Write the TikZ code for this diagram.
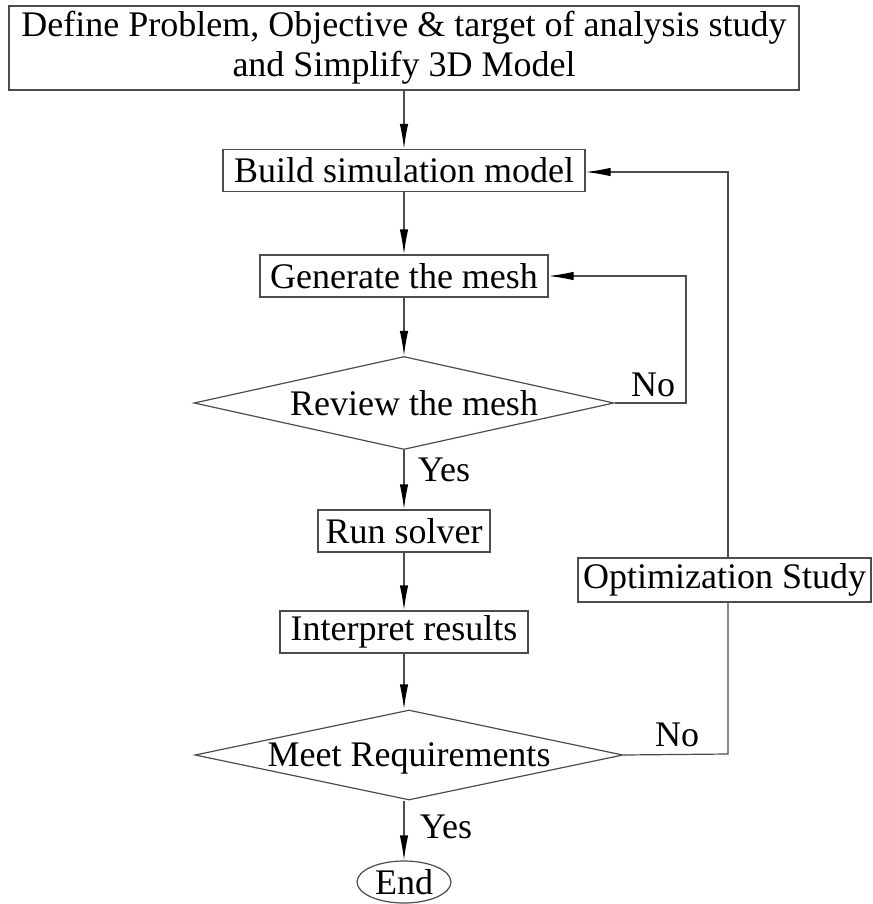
\documentclass[tikz,border=0pt]{standalone}
\usepackage{fontspec}
\setmainfont{Liberation Serif}
\usetikzlibrary{shapes.geometric,arrows.meta}
\begin{document}
\begin{tikzpicture}[x=1pt,y=-1pt,
  every node/.style={font=\fontsize{36}{40}\selectfont, text=black},
  line/.style={draw=black!70, line width=1.2pt},
  proc/.style={line, rectangle, inner xsep=4pt, inner ysep=0pt, minimum height=42pt},
  decide/.style={line, diamond, inner sep=0pt},
  term/.style={line, ellipse, inner sep=0pt, minimum width=94pt, minimum height=42pt},
  lbl/.style={inner sep=0pt},
  flow/.style={line, -{Latex[length=25pt,width=8.5pt,black]}}
]
\useasboundingbox (0,0) rectangle (872,904);

\node[line, rectangle, align=center, minimum width=790pt, minimum height=84pt, inner sep=0pt]
  (define) at (404,48) {Define Problem, Objective \& target of analysis study\\and Simplify 3D Model};
\node[proc, minimum width=362pt] (build) at (404,170.5) {Build simulation model};
\node[proc, minimum width=288pt] (mesh) at (404,276) {Generate the mesh};
\node[decide, minimum width=420pt, minimum height=93pt] (review) at (404,403) {};
\node[lbl] at (414,403) {Review the mesh};
\node[proc, minimum width=172pt] (solve) at (404,531) {Run solver};
\node[proc, minimum width=248pt] (interp) at (404,632) {Interpret results};
\node[decide, minimum width=428pt, minimum height=90pt] (meet) at (409,755) {};
\node[lbl] at (409,758) {Meet Requirements};
\node[term] (end) at (404,882) {End};
\node[proc, minimum width=293pt, minimum height=44pt] (optim) at (724.5,580) {Optimization Study};

\coordinate (rr) at (686,403);
\coordinate (rt) at (686,276);
\coordinate (mr) at (728,754);
\coordinate (bt) at (728,172);

\draw[flow] (define.south -| build) -- (build.north);
\draw[flow] (build) -- (mesh);
\draw[flow] (mesh.south) -- (review.north -| mesh);
\draw[flow] (review.south -| solve) -- (solve.north);
\draw[flow] (solve) -- (interp);
\draw[flow] (interp.south) -- (meet.north -| interp);
\draw[flow] (meet.south -| end) -- (end.north);

\draw[flow] (review.east) -- (rr) -- (rt) -- (mesh.east);
\draw[line] (meet.east) -- (mr) -- (optim.south -| mr);
\draw[flow] (optim.north -| bt) -- (bt) -- (bt -| build.east);

\node[lbl] at (653,385) {No};
\node[lbl] at (444,470) {Yes};
\node[lbl] at (677,735) {No};
\node[lbl] at (446,827) {Yes};
\end{tikzpicture}
\end{document}
